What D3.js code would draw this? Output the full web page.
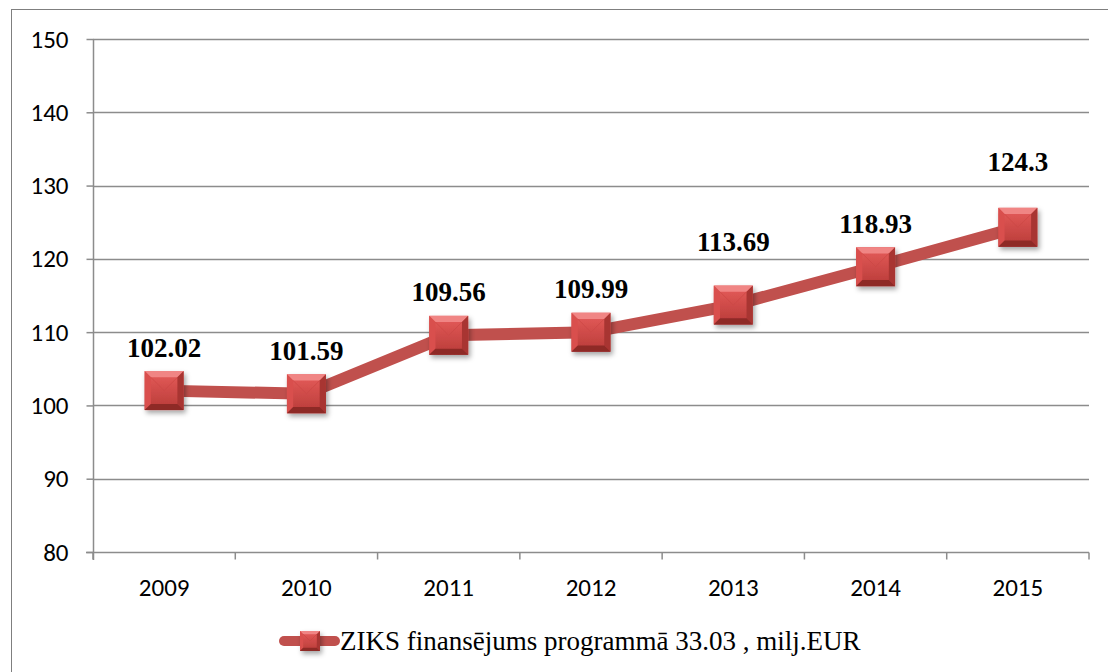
<!DOCTYPE html>
<html>
<head>
<meta charset="utf-8">
<script src="https://cdn.jsdelivr.net/npm/d3@7"></script>
<style>
  body { margin: 0; background: #fff; }
  svg { display: block; }
</style>
</head>
<body>
<div id="chart"></div>
<script>
// Chart data
const years = ["2009", "2010", "2011", "2012", "2013", "2014", "2015"];
const funding = [102.02, 101.59, 109.56, 109.99, 113.69, 118.93, 124.3];
const yTicks = [80, 90, 100, 110, 120, 130, 140, 150];
const seriesName = "ZIKS finansējums programmā 33.03 , milj.EUR";

const width = 1108;
const height = 672;
const lineColor = "#c0504d";
const gridColor = "#8c8c8c";
// extra lift (px) for labels the original author dragged upward
const labelLift = [0, 0, 0, 0, 20, 0, 22];

const svg = d3.select("#chart").append("svg")
    .attr("width", width)
    .attr("height", height);

// Gradients and shadow for the bevelled markers
const defs = svg.append("defs");
const face = defs.append("linearGradient")
    .attr("id", "face").attr("x1", 0).attr("y1", 0).attr("x2", 0).attr("y2", 1);
face.append("stop").attr("offset", "0%").attr("stop-color", "#e65c5a");
face.append("stop").attr("offset", "100%").attr("stop-color", "#b83b38");

const shadow = defs.append("filter").attr("id", "shadow")
    .attr("x", "-30%").attr("y", "-30%").attr("width", "170%").attr("height", "170%");
shadow.append("feDropShadow")
    .attr("dx", 2).attr("dy", 3).attr("stdDeviation", 2.5)
    .attr("flood-color", "#000").attr("flood-opacity", 0.35);

// Outer frame
svg.append("rect")
    .attr("x", 11.5).attr("y", 9.5)
    .attr("width", width).attr("height", height)
    .attr("fill", "none")
    .attr("stroke", "#7f7f7f");

// Scales
const x = d3.scaleBand()
    .domain(years)
    .range([93, 1089]);

const y = d3.scaleLinear()
    .domain([80, 150])
    .range([552, 39]);

const cx = d => x(d) + x.bandwidth() / 2;
const axisFont = "Carlito, Lato, 'Open Sans', sans-serif";

// Gridlines
svg.append("g")
    .selectAll("line")
    .data(yTicks.filter(t => t > 80))
    .enter().append("line")
    .attr("x1", 93).attr("x2", 1089)
    .attr("y1", d => Math.round(y(d)) + 0.5)
    .attr("y2", d => Math.round(y(d)) + 0.5)
    .attr("stroke", gridColor)
    .attr("stroke-width", 1.5);

// Y axis
const yAxis = svg.append("g")
    .attr("transform", "translate(93.5,0)")
    .call(d3.axisLeft(y).tickValues(yTicks).tickSize(7).tickPadding(18));
yAxis.select(".domain").attr("stroke", gridColor).attr("stroke-width", 1.5)
    .attr("d", "M0,39V560");
yAxis.selectAll(".tick line").attr("stroke", gridColor).attr("stroke-width", 1.5);
yAxis.selectAll(".tick text")
    .attr("fill", "#000")
    .style("font-family", axisFont)
    .style("font-size", "25px");

// X axis (ticks sit on the category boundaries)
const xAxis = svg.append("g")
    .attr("transform", "translate(0,552.5)");
xAxis.append("line")
    .attr("x1", 86).attr("x2", 1089)
    .attr("stroke", gridColor).attr("stroke-width", 1.5);
xAxis.selectAll("line.tick")
    .data(years.map(d => x(d)).concat([x.range()[1]]))
    .enter().append("line")
    .attr("class", "tick")
    .attr("x1", d => d).attr("x2", d => d)
    .attr("y1", 0).attr("y2", 7)
    .attr("stroke", gridColor).attr("stroke-width", 1.5);
xAxis.selectAll("text")
    .data(years)
    .enter().append("text")
    .attr("x", d => cx(d))
    .attr("y", 43)
    .attr("text-anchor", "middle")
    .style("font-family", axisFont)
    .style("font-size", "25px")
    .text(d => d);

// Series line
const line = d3.line()
    .x((d, i) => cx(years[i]))
    .y(d => y(d));

svg.append("path")
    .datum(funding)
    .attr("d", line)
    .attr("fill", "none")
    .attr("stroke", lineColor)
    .attr("stroke-width", 12)
    .attr("stroke-linejoin", "round");

// Bevelled square marker
function marker(g, s) {
    const h = s / 2, b = s * 0.16;
    g.attr("filter", "url(#shadow)");
    g.append("rect")
        .attr("x", -h).attr("y", -h).attr("width", s).attr("height", s)
        .attr("fill", "url(#face)");
    const bevel = [
        { pts: [[-h, -h], [h, -h], [h - b, -h + b], [-h + b, -h + b]], fill: "#f08584" },
        { pts: [[-h, -h], [-h + b, -h + b], [-h + b, h - b], [-h, h]], fill: "#d9504e" },
        { pts: [[h, -h], [h, h], [h - b, h - b], [h - b, -h + b]], fill: "#a83532" },
        { pts: [[-h, h], [-h + b, h - b], [h - b, h - b], [h, h]], fill: "#8e2a28" }
    ];
    g.selectAll("polygon")
        .data(bevel)
        .enter().append("polygon")
        .attr("points", d => d.pts.map(p => p.join(",")).join(" "))
        .attr("fill", d => d.fill);
    g.append("line")
        .attr("x1", -h + b).attr("y1", -h + b).attr("x2", 0).attr("y2", 0)
        .attr("stroke", "#c94643").attr("stroke-width", 1).attr("opacity", 0.6);
    g.append("line")
        .attr("x1", h - b).attr("y1", -h + b).attr("x2", 0).attr("y2", 0)
        .attr("stroke", "#c94643").attr("stroke-width", 1).attr("opacity", 0.6);
}

svg.append("g")
    .selectAll("g")
    .data(funding)
    .enter().append("g")
    .attr("transform", (d, i) => `translate(${cx(years[i])},${y(d)})`)
    .each(function() { marker(d3.select(this), 39); });

// Data labels
svg.append("g")
    .selectAll("text")
    .data(funding)
    .enter().append("text")
    .attr("x", (d, i) => cx(years[i]))
    .attr("y", (d, i) => y(d) - 34 - labelLift[i])
    .attr("text-anchor", "middle")
    .style("font-family", "'Liberation Serif', 'Times New Roman', serif")
    .style("font-weight", "bold")
    .style("font-size", "27px")
    .text(d => d);

// Legend
const legend = svg.append("g").attr("transform", "translate(279,641)");
legend.append("line")
    .attr("x1", 5).attr("x2", 56)
    .attr("stroke", lineColor)
    .attr("stroke-width", 10)
    .attr("stroke-linecap", "round");
legend.append("g")
    .attr("transform", "translate(31,0)")
    .each(function() { marker(d3.select(this), 20); });
legend.append("text")
    .attr("x", 61)
    .attr("y", 9)
    .style("font-family", "'Liberation Serif', 'Times New Roman', serif")
    .style("font-size", "27px")
    .text(seriesName);
</script>
</body>
</html>
